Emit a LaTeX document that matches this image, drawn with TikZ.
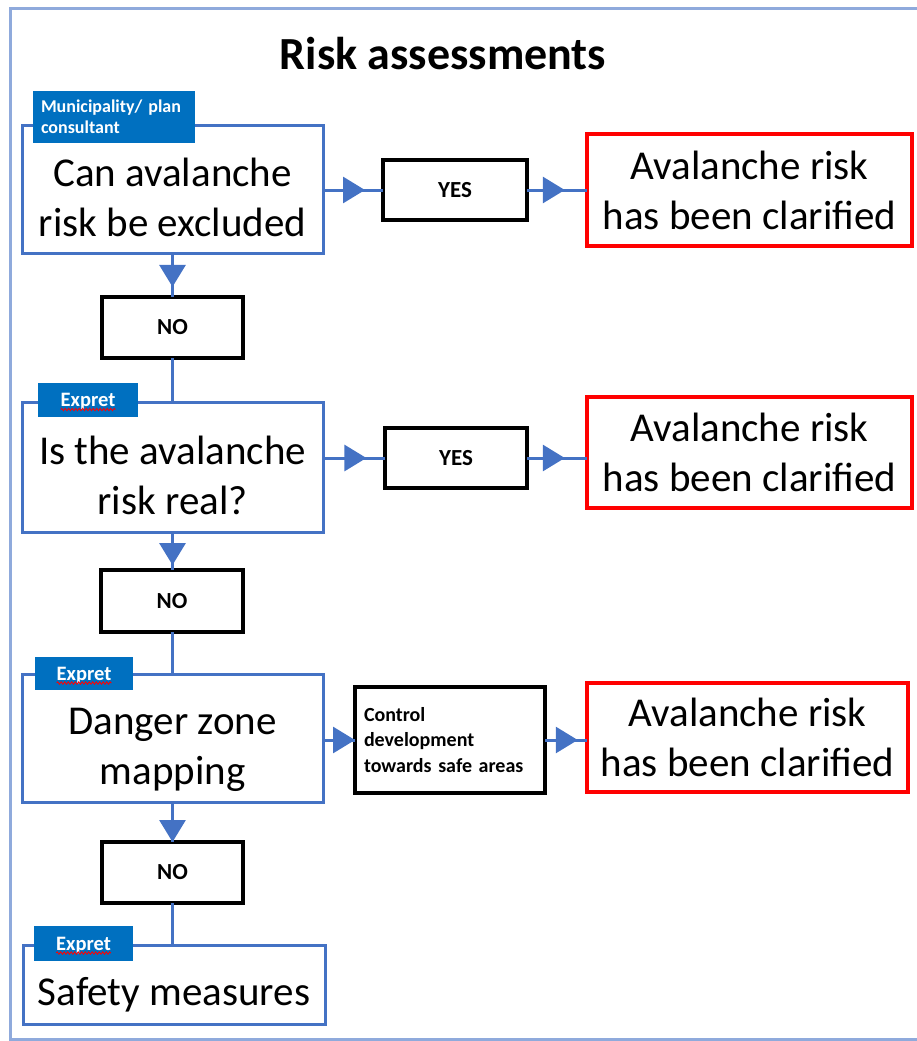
\documentclass[tikz,border=0pt]{standalone}
\usepackage{fontspec}
\setmainfont{Carlito}
\usetikzlibrary{arrows.meta,decorations.markings,decorations.pathmorphing}
\definecolor{lineblue}{HTML}{4472C4}
\definecolor{tagblue}{HTML}{0070C0}
\definecolor{framecol}{HTML}{8FAADC}
\definecolor{redc}{HTML}{FF0000}
\tikzset{
  bluebox/.style={draw=lineblue, line width=3pt, fill=white, inner sep=0pt, outer sep=0pt},
  maintext/.style={font=\fontsize{41}{50}\selectfont, align=center, inner sep=0pt},
  answerbox/.style={draw=black, line width=3.5pt, fill=white, inner sep=0pt, outer sep=0pt,
    font=\bfseries\fontsize{23}{26}\selectfont},
  redbox/.style={draw=redc, line width=3.5pt, fill=white, inner sep=0pt, outer sep=0pt,
    font=\fontsize{41}{50}\selectfont, align=center},
  tagbox/.style={fill=tagblue, text=white, inner sep=0pt, outer sep=0pt,
    font=\bfseries\fontsize{18}{21}\selectfont},
  conn/.style={draw=lineblue, color=lineblue, line width=3pt},
  midarrow/.style={postaction={decorate}, decoration={markings,
    mark=at position #1 with {\arrow{Triangle[length=22pt,width=26pt]}}}},
  squiggle/.style={draw=redc, line width=0.8pt, decorate,
    decoration={snake, amplitude=1.2pt, segment length=3.5pt}}
}
\begin{document}
\begin{tikzpicture}[x=1pt,y=-1pt]
\useasboundingbox (0,0) rectangle (917,1041);
% outer frame
\coordinate (ftr) at (917,9);
\coordinate (ftl) at (10,9);
\coordinate (fbl) at (10,1039);
\coordinate (fbr) at (917,1039);
\draw[framecol, line width=3pt] (ftr) -- (ftl) -- (fbl) -- (fbr);

\node[font=\bfseries\fontsize{46}{55}\selectfont] (title) at (443,54) {Risk assessments};

% main blue boxes
\node[bluebox, minimum width=301pt, minimum height=128pt] (b1) at (172.5,189) {};
\node[bluebox, minimum width=301pt, minimum height=130pt] (b2) at (172.5,467) {};
\node[bluebox, minimum width=301pt, minimum height=128pt] (b3) at (172.5,738) {};
\node[bluebox, minimum width=302pt, minimum height=79pt] (b4) at (174,984.5) {};

\node[maintext] (t1) at (172.5,197) {Can avalanche\\risk be excluded};
\node[maintext] (t2) at (172.5,475) {Is the avalanche\\risk real?};
\node[maintext] (t3) at (172.5,750) {Danger zone\\mapping};
\node[maintext] (t4) at (174,995) {Safety measures};

% answer boxes
\node[answerbox, minimum width=144pt, minimum height=60pt] (y1) at (455,190) {YES};
\node[answerbox, minimum width=142pt, minimum height=60pt] (y2) at (456,458) {YES};
\node[answerbox, minimum width=141pt, minimum height=61pt] (n1) at (172.5,327.5) {NO};
\node[answerbox, minimum width=142pt, minimum height=62pt] (n2) at (172,601) {NO};
\node[answerbox, minimum width=141pt, minimum height=61pt] (n3) at (172.5,872.5) {NO};
\node[answerbox, minimum height=106pt, text width=172pt, inner xsep=9pt, align=left,
  font=\bfseries\fontsize{20}{25.5}\selectfont] (ctl) at (450,740)
  {Control\\development\\towards safe areas};

% red result boxes
\node[redbox, minimum width=325pt, minimum height=112pt] (r1) at (749.5,190) {Avalanche risk\\has been clarified};
\node[redbox, minimum width=325pt, minimum height=111pt] (r2) at (749.5,452.5) {Avalanche risk\\has been clarified};
\node[redbox, minimum width=321pt, minimum height=109pt] (r3) at (747.5,737.5) {Avalanche risk\\has been clarified};

% connectors
\draw[conn, midarrow=0.7] (b1.east |- y1.west) -- (y1.west);
\draw[conn, midarrow=0.63] (y1.east) -- (y1.east -| r1.west);
\draw[conn, midarrow=0.7] (y2.west -| b2.east) -- (y2.west);
\draw[conn, midarrow=0.63] (y2.east) -- (y2.east -| r2.west);
\draw[conn, midarrow=1] (ctl.west -| b3.east) -- (ctl.west);
\draw[conn, midarrow=0.78] (ctl.east) -- (ctl.east -| r3.west);

\draw[conn, midarrow=0.77] (b1.south) -- (b1.south |- n1.north);
\draw[conn] (n1.south) -- (n1.south |- b2.north);
\draw[conn, midarrow=0.87] (b2.south) -- (b2.south |- n2.north);
\draw[conn] (n2.south) -- (n2.south |- b3.north);
\draw[conn, midarrow=1] (b3.south) -- (b3.south |- n3.north);
\draw[conn] (n3.south) -- (n3.south |- b4.north);

% role tags
\node[tagbox, minimum width=162pt, minimum height=52pt, align=left, text width=146pt] (g1) at (114,117)
  {Municipality/ plan\\consultant};
\node[tagbox, minimum width=100pt, minimum height=34pt] (g2) at (88,400) {};
\node[tagbox, minimum width=98pt, minimum height=33pt] (g3) at (84,673.5) {};
\node[tagbox, minimum width=99pt, minimum height=35pt] (g4) at (83.5,943.5) {};
\node[tagbox, fill=none, font=\bfseries\fontsize{20.5}{24}\selectfont] (e2) at (88,401.5) {Expret};
\node[tagbox, fill=none, font=\bfseries\fontsize{20.5}{24}\selectfont] (e3) at (84,675) {Expret};
\node[tagbox, fill=none, font=\bfseries\fontsize{20.5}{24}\selectfont] (e4) at (83.5,945) {Expret};
\draw[squiggle] ([yshift=-3pt]e2.base west) -- ([yshift=-3pt]e2.base east);
\draw[squiggle] ([yshift=-3pt]e3.base west) -- ([yshift=-3pt]e3.base east);
\draw[squiggle] ([yshift=-3pt]e4.base west) -- ([yshift=-3pt]e4.base east);
\end{tikzpicture}
\end{document}
